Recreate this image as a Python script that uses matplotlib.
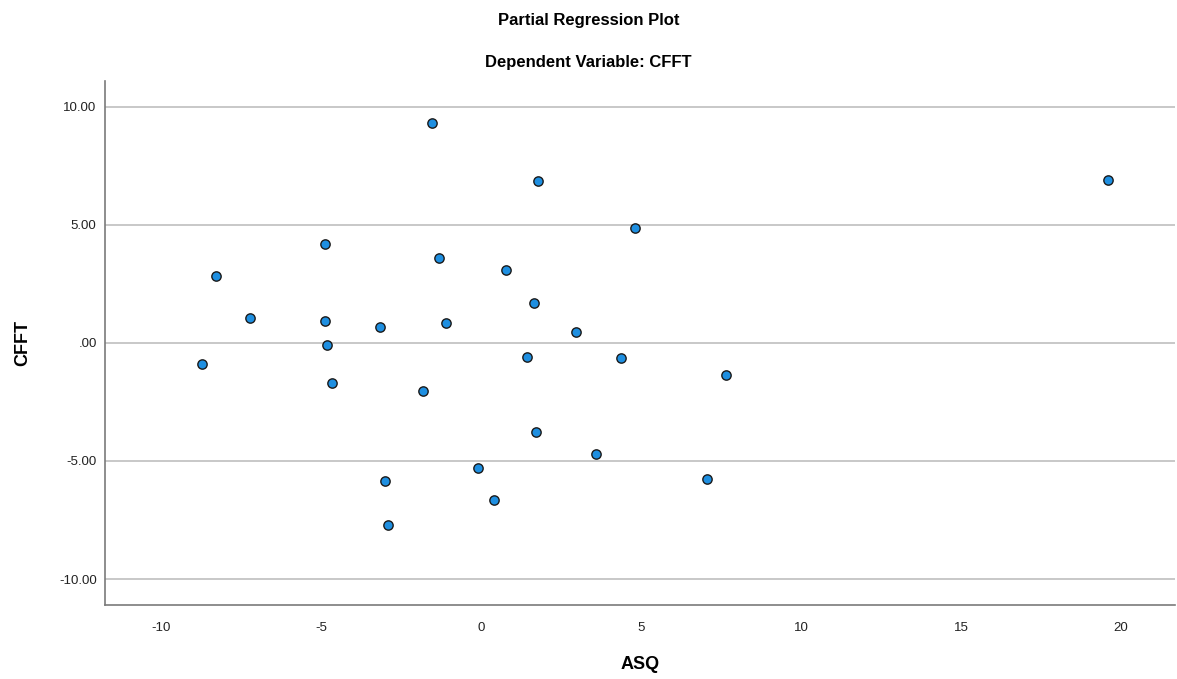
import matplotlib
matplotlib.use("Agg")
import matplotlib.pyplot as plt

plt.rcParams['font.family'] = ['Liberation Sans', 'DejaVu Sans']
plt.rcParams['axes.unicode_minus'] = False

# partial residuals: ASQ vs CFFT
asq = [-1.53, 1.78, 19.60, 4.81, -4.88, -8.28, -1.31, 0.78, 1.66, -7.22,
       -4.88, -3.16, -1.09, 2.97, -4.81, -8.72, 1.44, 4.38, 7.66, -4.66,
       -1.81, 1.72, 3.59, -0.09, -3.00, 7.06, 0.41, -2.91]
cfft = [9.32, 6.86, 6.91, 4.87, 4.19, 2.84, 3.60, 3.09, 1.69, 1.06,
        0.93, 0.68, 0.85, 0.47, -0.08, -0.89, -0.59, -0.64, -1.36, -1.69,
        -2.03, -3.77, -4.70, -5.30, -5.85, -5.76, -6.65, -7.71]

x_ticks = [-10, -5, 0, 5, 10, 15, 20]
y_ticks = [-10, -5, 0, 5, 10]
y_tick_labels = ['-10.00', '-5.00', '.00', '5.00', '10.00']

fig = plt.figure(figsize=(11.77, 6.79), dpi=100)
ax = fig.add_axes([0.0892, 0.109, 0.9091, 0.772])

ax.scatter(asq, cfft, s=45, color='#1e8fe1', edgecolors='#1a1a1a',
           linewidths=1.0, zorder=3)

ax.set_xlim(-11.75, 21.69)
ax.set_ylim(-11.1, 11.1)
ax.set_xticks(x_ticks)
ax.set_yticks(y_ticks)
ax.set_yticklabels(y_tick_labels)
ax.tick_params(length=0, labelsize=9.5, colors='#222222')
ax.tick_params(axis='y', pad=6)
ax.tick_params(axis='x', pad=12)

ax.grid(axis='y', color='#c8c8c8', linewidth=1.4, zorder=0)
ax.set_axisbelow(True)
for side in ['top', 'right']:
    ax.spines[side].set_visible(False)
for side in ['left', 'bottom']:
    ax.spines[side].set_color('#7a7a7a')
    ax.spines[side].set_linewidth(1.2)

ax.set_xlabel('ASQ', fontsize=13, fontweight='bold', labelpad=16)
ax.set_ylabel('CFFT', fontsize=13, fontweight='bold', labelpad=20)

fig.text(0.5, 0.970, 'Partial Regression Plot', ha='center', va='center',
         fontsize=12, fontweight='bold')
fig.text(0.5, 0.908, 'Dependent Variable: CFFT', ha='center', va='center',
         fontsize=12, fontweight='bold')

fig.savefig('out.png', dpi=100, facecolor='white')
plt.close(fig)
